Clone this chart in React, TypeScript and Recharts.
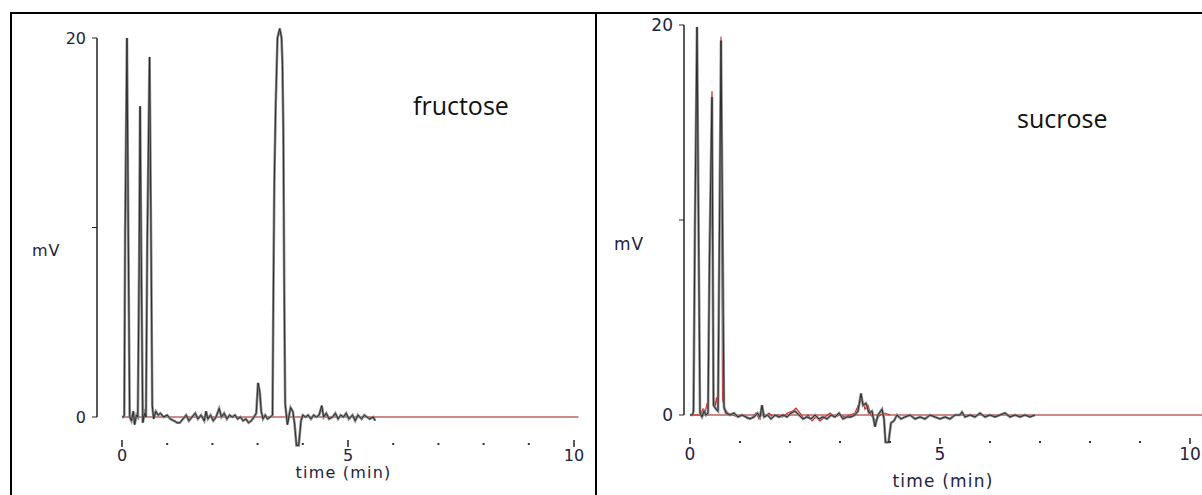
import React from 'react';
import { LineChart, Line, XAxis, YAxis, ReferenceLine } from 'recharts';

// fructose run (time in min, signal in mV)
const fructoseTime = [
  0.00, 0.03, 0.05, 0.07, 0.11, 0.14, 0.17, 0.21, 0.25, 0.28, 0.32, 0.35, 0.38, 0.40, 0.43, 0.46,
  0.50, 0.53, 0.56, 0.61, 0.64, 0.67, 0.70, 0.75, 0.80, 0.85, 0.92, 1.00, 1.07, 1.15, 1.22, 1.28,
  1.35, 1.42, 1.48, 1.55, 1.62, 1.68, 1.75, 1.82, 1.86, 1.90, 1.96, 2.02, 2.08, 2.15, 2.20, 2.26,
  2.32, 2.38, 2.44, 2.50, 2.56, 2.62, 2.68, 2.74, 2.80, 2.86, 2.92, 2.97, 3.01, 3.05, 3.08, 3.12,
  3.17, 3.22, 3.28, 3.33, 3.35, 3.37, 3.40, 3.44, 3.49, 3.53, 3.55, 3.57, 3.59, 3.61, 3.66, 3.73,
  3.78, 3.82, 3.86, 3.91, 3.96, 4.00, 4.06, 4.12, 4.18, 4.24, 4.30, 4.36, 4.42, 4.46, 4.52, 4.58,
  4.66, 4.72, 4.78, 4.84, 4.90, 4.96, 5.02, 5.10, 5.16, 5.22, 5.30, 5.36, 5.42, 5.48, 5.56, 5.60,
];
const fructoseMv = [
  0, 0, 0.1, 9.9, 20.0, 9.5, 0.0, -0.2, 0.3, -0.4, 0.1, 0.0, 8.2, 16.4, 7.5, -0.3,
  0.2, 0.0, 9.4, 19.0, 10.3, 0.6, -0.1, 0.3, 0.1, 0.2, 0.0, 0.1, -0.1, -0.2, -0.3, -0.3,
  -0.1, 0.1, -0.2, 0.0, 0.2, -0.1, 0.1, -0.2, 0.3, -0.1, 0.1, -0.2, 0.0, 0.45, 0.0, 0.2,
  -0.1, 0.1, 0.0, 0.1, -0.1, 0.0, -0.2, -0.1, -0.3, -0.2, 0.0, 0.2, 1.8, 1.3, 0.3, -0.1,
  0.1, -0.1, 0.0, 0.1, 6.7, 12.4, 16.4, 20.0, 20.5, 20.0, 18.6, 15.0, 6.5, 0.7, -0.4, 0.5,
  0.3, -0.4, -1.5, -1.5, -0.2, 0.1, 0.0, 0.1, -0.1, 0.1, 0.0, 0.1, 0.6, 0.0, 0.2, -0.1,
  0.0, 0.2, -0.1, 0.1, 0.0, 0.2, -0.1, 0.1, -0.2, 0.1, -0.1, 0.1, 0.0, -0.1, 0.0, -0.2,
];

// sucrose run
const sucroseTime = [
  0.00, 0.05, 0.07, 0.10, 0.14, 0.17, 0.20, 0.24, 0.28, 0.32, 0.36, 0.39, 0.44, 0.47, 0.52, 0.56,
  0.59, 0.62, 0.65, 0.68, 0.72, 0.80, 0.88, 0.96, 1.04, 1.12, 1.20, 1.28, 1.35, 1.40, 1.44, 1.48,
  1.55, 1.62, 1.70, 1.78, 1.86, 1.94, 2.02, 2.10, 2.18, 2.26, 2.34, 2.42, 2.50, 2.58, 2.66, 2.74,
  2.82, 2.90, 2.98, 3.06, 3.14, 3.22, 3.30, 3.36, 3.42, 3.46, 3.52, 3.58, 3.64, 3.70, 3.76, 3.84,
  3.88, 3.91, 3.97, 4.02, 4.08, 4.14, 4.22, 4.30, 4.40, 4.50, 4.60, 4.70, 4.80, 4.90, 5.00, 5.10,
  5.20, 5.30, 5.40, 5.44, 5.50, 5.60, 5.70, 5.80, 5.90, 6.00, 6.10, 6.20, 6.30, 6.40, 6.50, 6.60,
  6.70, 6.80, 6.90,
];
const sucroseMv = [
  0, 0, 0.2, 10.0, 19.9, 10.0, 0.1, -0.1, 0.2, 0.0, 0.1, 8.0, 16.3, 0.5, 0.3, 0.2,
  9.6, 19.2, 9.8, 0.4, 0.1, 0.0, 0.1, -0.1, 0.0, -0.1, -0.2, -0.1, 0.1, -0.1, 0.5, -0.1,
  0.0, -0.2, 0.0, -0.1, 0.0, -0.1, 0.1, 0.2, 0.0, -0.2, -0.1, -0.2, 0.0, -0.2, -0.1, -0.2,
  0.0, -0.1, 0.1, -0.2, -0.1, -0.1, 0.0, 0.2, 1.1, 0.5, 0.6, 0.1, 0.2, -0.6, 0.0, 0.3,
  -0.2, -1.4, -1.4, -0.4, -0.3, 0.0, -0.2, -0.1, 0.0, -0.2, -0.1, -0.2, 0.0, -0.1, -0.2, -0.1,
  -0.2, 0.0, 0.0, 0.15, -0.1, 0.0, -0.1, 0.1, -0.1, 0.0, -0.1, 0.0, 0.1, -0.1, 0.0, -0.1,
  0.0, -0.1, 0.0,
];

// sucrose replicate (red trace)
const sucroseRepTime = [
  0.00, 0.20, 0.26, 0.30, 0.34, 0.36, 0.39, 0.44, 0.47, 0.50, 0.53, 0.56, 0.59, 0.62, 0.65, 0.70,
  0.76, 0.85, 0.95, 1.05, 1.15, 1.25, 1.32, 1.38, 1.44, 1.50, 1.58, 1.66, 1.75, 1.85, 1.95, 2.05,
  2.12, 2.20, 2.28, 2.36, 2.44, 2.52, 2.60, 2.70, 2.80, 2.90, 3.00, 3.10, 3.20, 3.30, 3.38, 3.44,
  3.50, 3.56, 3.62, 3.70, 3.80, 3.90, 4.00,
];
const sucroseRepMv = [
  0, 0, 0.3, 0.1, 0.6, 0.2, 7.8, 16.6, 0.8, 0.4, 0.9, 0.3, 9.4, 19.4, 0.8, 0.3,
  0.1, 0.0, -0.1, 0.0, -0.2, -0.1, 0.1, -0.2, 0.3, -0.1, 0.1, -0.1, 0.0, -0.1, 0.1, 0.2,
  0.35, 0.1, -0.2, 0.0, -0.3, -0.1, -0.3, -0.1, 0.1, -0.1, 0.0, -0.1, 0.0, 0.1, 0.6, 0.8,
  0.3, 0.5, 0.0, -0.3, 0.0, 0.1, 0.0,
];

const xTicks = [0, 1, 2, 3, 4, 5, 6, 7, 8, 9, 10];
const yTicks = [0, 10, 20];

const zip = (ts: number[], vs: number[]) => ts.map((t, i) => ({ t, v: vs[i] }));

const axisFont = '"DejaVu Sans", sans-serif';
const labelColor = '#1e2240';

function makeXTick(tickTop: number, tickBottom: number, dotY: number, labelY: number, fontSize: number) {
  return (props: any) => {
    const { x, y, payload } = props;
    const major = payload.value % 5 === 0;
    return (
      <g>
        {major ? (
          <line x1={x} x2={x} y1={y + tickTop} y2={y + tickBottom} stroke="#222" strokeWidth={1.5} />
        ) : (
          <rect x={x - 1} y={y + dotY} width={2} height={2} fill="#333" />
        )}
        {major && (
          <text x={x} y={y + labelY} dy="0.35em" textAnchor="middle" fill={labelColor}
            fontSize={fontSize} fontFamily={axisFont}>
            {payload.value}
          </text>
        )}
      </g>
    );
  };
}

type PanelProps = {
  left: number;
  width: number;
  margin: { top: number; right: number; bottom: number; left: number };
  yAxisWidth: number;
  xDomain: [number, number];
  yDomain: [number, number];
  fontSize: number;
  xTick: (p: any) => React.ReactElement;
  xLabelOffset: number;
  mvDy: number;
  baselineEnd: number;
  trace: { t: number; v: number }[];
  replicate?: { t: number; v: number }[];
};

function Panel(p: PanelProps) {
  const baseline = [{ t: 0, v: 0 }, { t: p.baselineEnd, v: 0 }];
  return (
    <div style={{ position: 'absolute', left: p.left, top: 0 }}>
      <LineChart width={p.width} height={495} margin={p.margin}>
        <XAxis
          type="number"
          dataKey="t"
          domain={p.xDomain}
          allowDataOverflow
          ticks={xTicks}
          interval={0}
          axisLine={false}
          tickLine={false}
          tickSize={0}
          tickMargin={0}
          height={45}
          tick={p.xTick}
          label={{ value: 'time (min)', position: 'insideBottom', offset: p.xLabelOffset, fill: labelColor, fontSize: p.fontSize, fontFamily: axisFont, letterSpacing: 1.2 }}
        />
        <YAxis
          type="number"
          dataKey="v"
          domain={p.yDomain}
          allowDataOverflow
          ticks={yTicks}
          interval={0}
          width={p.yAxisWidth}
          axisLine={false}
          stroke="#222"
          tickSize={5}
          tickMargin={6}
          tickFormatter={(v: number) => (v === 10 ? '' : String(v))}
          tick={{ fill: labelColor, fontSize: p.fontSize, fontFamily: axisFont }}
          label={{ value: 'mV', position: 'insideLeft', offset: 2, dy: p.mvDy, fill: labelColor, fontSize: p.fontSize, fontFamily: axisFont, letterSpacing: 1 }}
        />
        <ReferenceLine segment={[{ x: p.xDomain[0], y: 0 }, { x: p.xDomain[0], y: 20 }]} stroke="#222" strokeWidth={1.5} />
        <Line data={baseline} dataKey="v" type="linear" stroke="#c06060" strokeWidth={1.6} dot={false} isAnimationActive={false} />
        {p.replicate && (
          <Line data={p.replicate} dataKey="v" type="linear" stroke="#e02020" strokeWidth={1.2} dot={false} isAnimationActive={false} />
        )}
        <Line data={p.trace} dataKey="v" type="linear" stroke="#8a8a8a" strokeWidth={2.6} dot={false} isAnimationActive={false} />
        <Line data={p.trace} dataKey="v" type="linear" stroke="#222" strokeWidth={0.9} dot={false} isAnimationActive={false} />
      </LineChart>
    </div>
  );
}

export default function App() {
  const titleStyle: React.CSSProperties = {
    position: 'absolute',
    fontFamily: '"Open Sans", sans-serif',
    fontSize: 25,
    color: '#111',
    lineHeight: '30px',
    whiteSpace: 'nowrap',
  };
  return (
    <div style={{ position: 'absolute', left: 0, top: 0, width: 1202, height: 495, background: '#fff', overflow: 'hidden' }}>
      <Panel
        left={0}
        width={600}
        margin={{ top: 20, right: 10, bottom: 0, left: 30 }}
        yAxisWidth={67}
        xDomain={[-0.553, 10.354]}
        yDomain={[-1.74, 20.95]}
        fontSize={16}
        xTick={makeXTick(-10, -3, -7, 5, 16)}
        xLabelOffset={17}
        mvDy={15}
        baselineEnd={10.1}
        trace={zip(fructoseTime, fructoseMv)}
      />
      <Panel
        left={600}
        width={602}
        margin={{ top: 15, right: 0, bottom: 0, left: 12 }}
        yAxisWidth={72}
        xDomain={[-0.12, 10.24]}
        yDomain={[-1.795, 20.513]}
        fontSize={17}
        xTick={makeXTick(-12, -6, -9, 4, 17)}
        xLabelOffset={8}
        mvDy={11}
        baselineEnd={10.24}
        trace={zip(sucroseTime, sucroseMv)}
        replicate={zip(sucroseRepTime, sucroseRepMv)}
      />
      <div style={{ ...titleStyle, left: 413, top: 90 }}>fructose</div>
      <div style={{ ...titleStyle, left: 1017, top: 103 }}>sucrose</div>
      {/* panel frames */}
      <div style={{ position: 'absolute', left: 10, top: 12, width: 2, height: 483, background: '#000' }} />
      <div style={{ position: 'absolute', left: 595, top: 12, width: 2, height: 483, background: '#000' }} />
      <div style={{ position: 'absolute', left: 10, top: 12, width: 1192, height: 2, background: '#000' }} />
    </div>
  );
}
